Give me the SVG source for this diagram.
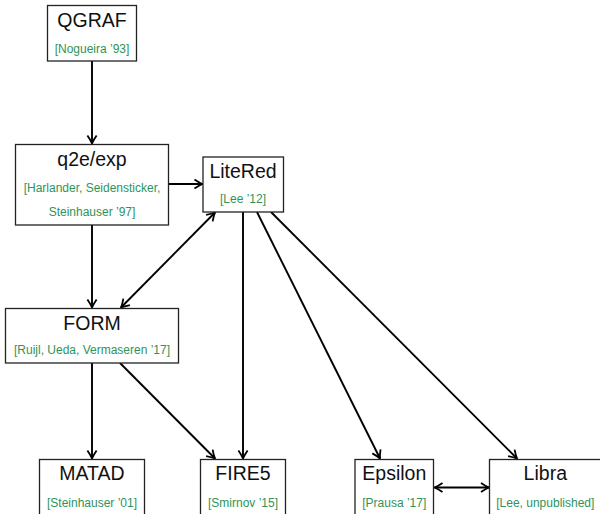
<svg xmlns="http://www.w3.org/2000/svg" width="600" height="514" viewBox="0 0 600 514">
<defs>
<marker id="ah" markerUnits="userSpaceOnUse" markerWidth="14" markerHeight="14" viewBox="-11 -7 14 14" refX="0" refY="0" orient="auto-start-reverse">
<path d="M-8,-4.6 Q-3.2,-1.3 0,0 Q-3.2,1.3 -8,4.6" fill="none" stroke="#000" stroke-width="1.8" stroke-linejoin="round"/>
</marker>
<style>
.box{fill:#fff;stroke:#222;stroke-width:1.3}
.t{font-family:"Liberation Sans",Arial,sans-serif;font-size:19.5px;fill:#111;text-anchor:middle}
.c{font-family:"Liberation Sans",Arial,sans-serif;font-size:12px;fill:#2e9459;text-anchor:middle}
.e{fill:none;stroke:#000;stroke-width:1.9}
</style>
</defs>
<rect width="600" height="514" fill="#fff"/>
<g id="connectors">
<path class="e" d="M92,61 L92,143.5" marker-end="url(#ah)"/>
<path class="e" d="M168.5,184 L202.5,184" marker-end="url(#ah)"/>
<path class="e" d="M92,225 L92,307.5" marker-end="url(#ah)"/>
<path class="e" d="M215,212.5 L121,307.5" marker-start="url(#ah)" marker-end="url(#ah)"/>
<path class="e" d="M92,363 L92,458.5" marker-end="url(#ah)"/>
<path class="e" d="M120,363 L215,458.5" marker-end="url(#ah)"/>
<path class="e" d="M243,212 L243,458.5" marker-end="url(#ah)"/>
<path class="e" d="M257,212 L380,458.5" marker-end="url(#ah)"/>
<path class="e" d="M271,212 L517,458.5" marker-end="url(#ah)"/>
<path class="e" d="M434.5,487.5 L489,487.5" marker-start="url(#ah)" marker-end="url(#ah)"/>
</g>
<g id="qgraf">
<rect class="box" x="47.5" y="5.5" width="89" height="55.5"/>
<text class="t" x="92" y="27">QGRAF</text>
<text class="c" x="92" y="52.5">[Nogueira ’93]</text>
</g>
<g id="q2e">
<rect class="box" x="15.5" y="144.5" width="153" height="80.5"/>
<text class="t" x="92" y="166">q2e/exp</text>
<text class="c" x="92" y="191.5">[Harlander, Seidensticker,</text>
<text class="c" x="92" y="216">Steinhauser ’97]</text>
</g>
<g id="litered">
<rect class="box" x="203" y="157" width="80.5" height="55"/>
<text class="t" x="243" y="178">LiteRed</text>
<text class="c" x="243" y="203">[Lee ’12]</text>
</g>
<g id="form">
<rect class="box" x="5.5" y="308.5" width="173" height="54.5"/>
<text class="t" x="92" y="329.5">FORM</text>
<text class="c" x="92" y="354">[Ruijl, Ueda, Vermaseren ’17]</text>
</g>
<g id="matad">
<rect class="box" x="39.5" y="459.5" width="105" height="60"/>
<text class="t" x="92" y="480">MATAD</text>
<text class="c" x="92" y="506.5">[Steinhauser ’01]</text>
</g>
<g id="fire5">
<rect class="box" x="200.5" y="459.5" width="85" height="60"/>
<text class="t" x="243" y="480">FIRE5</text>
<text class="c" x="243" y="506.5">[Smirnov ’15]</text>
</g>
<g id="epsilon">
<rect class="box" x="355" y="459.5" width="78.5" height="60"/>
<text class="t" x="394.3" y="480">Epsilon</text>
<text class="c" x="394.3" y="506.5">[Prausa ’17]</text>
</g>
<g id="libra">
<rect class="box" x="489.5" y="459.5" width="112" height="60"/>
<text class="t" x="545.3" y="480">Libra</text>
<text class="c" x="545.3" y="506.5">[Lee, unpublished]</text>
</g>
</svg>
